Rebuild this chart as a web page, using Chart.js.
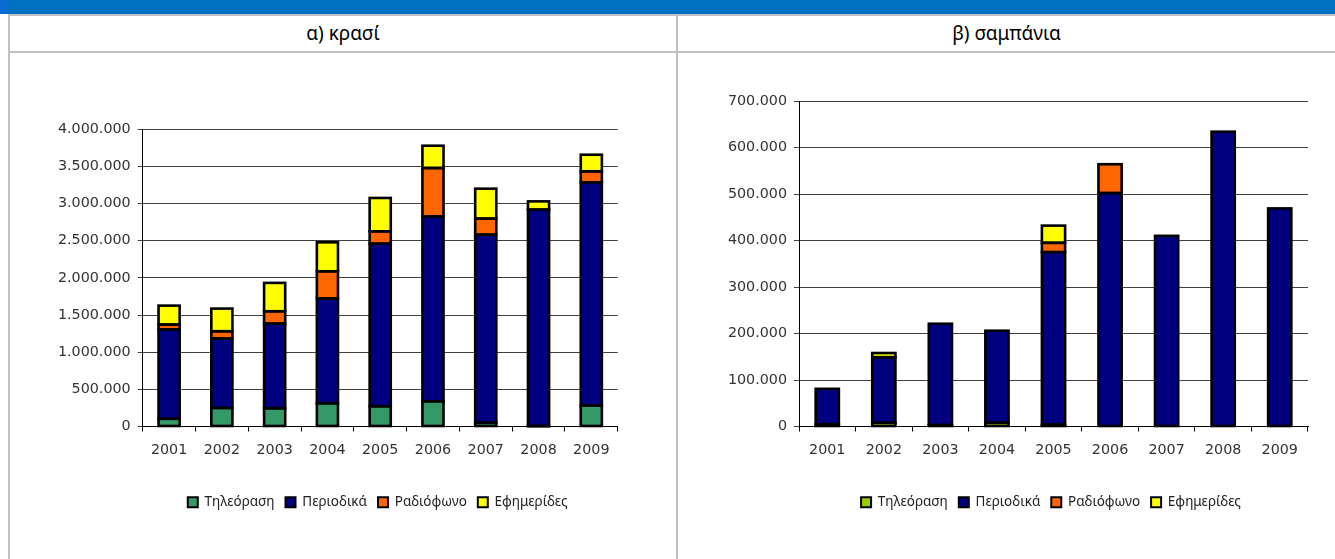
<!DOCTYPE html>
<html>
<head>
<meta charset="utf-8">
<script src="https://cdn.jsdelivr.net/npm/chart.js@4.4.1/dist/chart.umd.min.js"></script>
<style>
  html, body { margin: 0; padding: 0; background: #fff; }
  body { width: 1335px; height: 559px; position: relative; overflow: hidden; font-family: "Noto Sans", sans-serif; }
  .abs { position: absolute; }
  .band { left: 0; top: 0; width: 1335px; height: 14px; background: #0070C0; }
  .bandL { left: 0; top: 0; width: 8px; height: 14px; background: #0A6CD2; }
  .gl { background: #C0C0C0; }
  .title { top: 16px; height: 35px; line-height: 35px; text-align: center; font-size: 19px; color: #000; }
  canvas { position: absolute; }
</style>
</head>
<body>
<div class="abs band"></div>
<div class="abs bandL"></div>
<div class="abs gl" style="left:8px;top:14px;width:2px;height:545px;"></div>
<div class="abs gl" style="left:676px;top:14px;width:2px;height:545px;"></div>
<div class="abs gl" style="left:8px;top:14px;width:1327px;height:2px;"></div>
<div class="abs gl" style="left:8px;top:51px;width:1327px;height:2px;"></div>
<div class="abs title" style="left:10px;width:666px;">α) κρασί</div>
<div class="abs title" style="left:678px;width:657px;">β) σαμπάνια</div>
<div class="abs" style="left:10px;top:53px;width:666px;height:506px;"><canvas id="c1" width="666" height="506"></canvas></div>
<div class="abs" style="left:678px;top:53px;width:657px;height:506px;"><canvas id="c2" width="657" height="506"></canvas></div>
<script>
const years = ["2001","2002","2003","2004","2005","2006","2007","2008","2009"];
const seriesNames = ["Τηλεόραση","Περιοδικά","Ραδιόφωνο","Εφημερίδες"];

// α) κρασί
const wineTV        = [104000, 250000, 246000, 313000, 273000, 340000, 50000, 5000, 282000];
const wineMagazines = [1201000, 934000, 1139000, 1409000, 2188000, 2489000, 2532000, 2914000, 3004000];
const wineRadio     = [67000, 98000, 166000, 367000, 166000, 650000, 216000, 0, 148000];
const wineNewspapers= [255000, 305000, 382000, 390000, 449000, 300000, 403000, 111000, 224000];

// β) σαμπάνια
const champTV        = [5000, 8000, 3000, 8000, 4000, 0, 0, 0, 0];
const champMagazines = [76000, 141000, 218000, 198000, 371000, 502000, 410000, 634000, 469000];
const champRadio     = [0, 0, 0, 0, 20000, 62000, 0, 0, 0];
const champNewspapers= [0, 9000, 0, 0, 37000, 0, 0, 0, 0];

const wineTicks = { max: 4000000, step: 500000 };
const champTicks = { max: 700000, step: 100000 };

function fmt(v) { return String(Math.round(v)).replace(/\B(?=(\d{3})+(?!\d))/g, "."); }

// Centre the legend under the plot area (as in the spreadsheet chart)
const legendUnderPlot = {
  id: "legendUnderPlot",
  afterLayout(chart) {
    const lg = chart.legend, ca = chart.chartArea;
    if (!lg || !ca) return;
    const dx = (ca.left + ca.right) / 2 - 2.5 - (lg.left + lg.right) / 2;
    lg.left += dx; lg.right += dx;
  }
};

// Spreadsheet-style outlines: stroke centred on each bar segment's edge
const barOutlines = {
  id: "barOutlines",
  afterDatasetsDraw(chart) {
    const ctx = chart.ctx;
    ctx.save();
    ctx.strokeStyle = "#000";
    ctx.lineWidth = 2.6;
    ctx.lineJoin = "miter";
    chart.data.datasets.forEach((ds, di) => {
      const meta = chart.getDatasetMeta(di);
      meta.data.forEach((bar, i) => {
        if (!ds.data[i]) return;
        const p = bar.getProps(["x", "y", "base", "width"], true);
        const top = Math.min(p.y, p.base), h = Math.abs(p.base - p.y);
        ctx.strokeRect(p.x - p.width / 2, top, p.width, h);
      });
    });
    ctx.restore();
  }
};

function makeDatasets(arrs, colors, barPct) {
  return arrs.map((d, i) => ({
    label: seriesNames[i],
    data: d,
    backgroundColor: colors[i],
    borderColor: "#000",
    borderWidth: 0,
    barPercentage: barPct,
    categoryPercentage: 1.0
  }));
}

function makeChart(id, datasets, ticks, yWidth, pad) {
  const tickFont = { family: "'DejaVu Sans', sans-serif", size: 14.3 };
  return new Chart(document.getElementById(id), {
    type: "bar",
    data: { labels: years, datasets: datasets },
    plugins: [legendUnderPlot, barOutlines],
    options: {
      responsive: false,
      animation: false,
      devicePixelRatio: 1,
      layout: { padding: pad },
      plugins: {
        tooltip: { enabled: false },
        legend: {
          position: "bottom",
          labels: {
            boxWidth: 10, boxHeight: 10, padding: 11,
            color: "#222",
            font: { family: "'Noto Sans', sans-serif", size: 13.5 },
            generateLabels: chart => Chart.defaults.plugins.legend.labels.generateLabels(chart)
              .map(l => Object.assign(l, { lineWidth: 2, strokeStyle: "#000" }))
          }
        }
      },
      scales: {
        x: {
          stacked: true,
          grid: { offset: true, drawOnChartArea: false, drawTicks: true, tickLength: 5, color: "#000", lineWidth: 1 },
          border: { color: "#000", width: 1 },
          ticks: { color: "#333", font: tickFont, padding: 10, maxRotation: 0 },
          afterFit: s => { s.height = 58; }
        },
        y: {
          stacked: true,
          min: 0, max: ticks.max,
          grid: { color: "#404040", lineWidth: 1, tickLength: 5, drawTicks: true },
          border: { color: "#000", width: 1 },
          ticks: { stepSize: ticks.step, color: "#333", font: tickFont, padding: 7, callback: v => fmt(v) },
          afterFit: s => { s.width = yWidth; }
        }
      }
    }
  });
}

makeChart("c1",
  makeDatasets([wineTV, wineMagazines, wineRadio, wineNewspapers], ["#339966", "#000080", "#FF6600", "#FFFF00"], 0.40),
  wineTicks, 132.7, { top: 76.3, right: 58.3, bottom: 40, left: 0 });

makeChart("c2",
  makeDatasets([champTV, champMagazines, champRadio, champNewspapers], ["#99CC00", "#000080", "#FF6600", "#FFFF00"], 0.41),
  champTicks, 121, { top: 48, right: 27, bottom: 40, left: 0 });
</script>
</body>
</html>
